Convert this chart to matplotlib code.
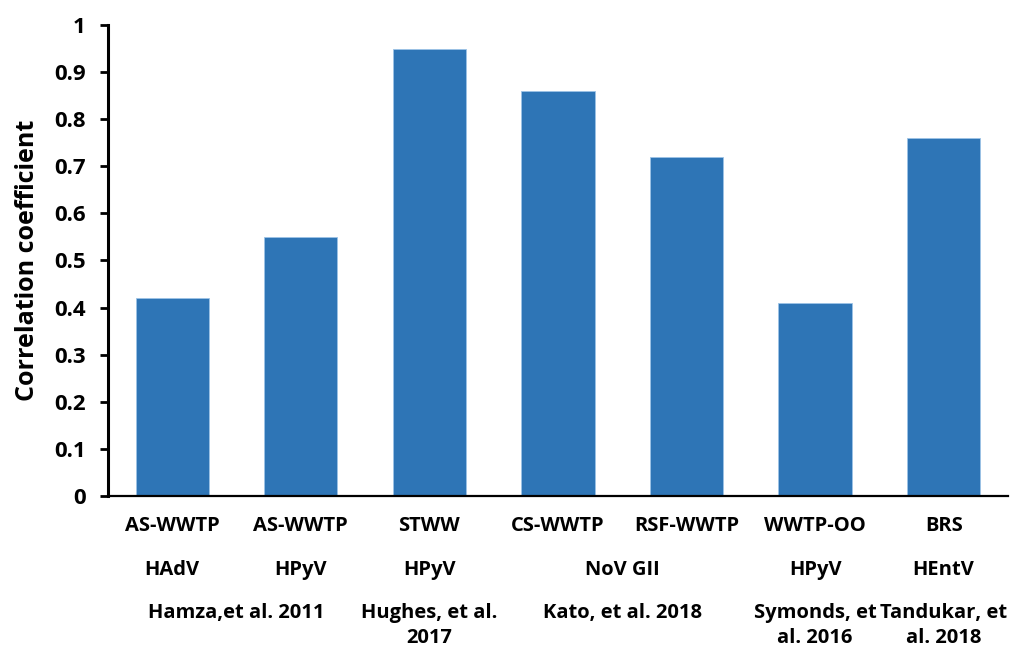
import numpy as np
import matplotlib.pyplot as plt
from matplotlib.transforms import blended_transform_factory

plt.rcParams['font.family'] = ['Open Sans', 'DejaVu Sans']
plt.rcParams['font.weight'] = 'bold'

# correlation coefficient per site / virus / study
sites = ['AS-WWTP', 'AS-WWTP', 'STWW', 'CS-WWTP', 'RSF-WWTP', 'WWTP-OO', 'BRS']
values = [0.42, 0.55, 0.95, 0.86, 0.72, 0.41, 0.76]

# second and third label rows: (label, first bar, last bar)
viruses = [('HAdV', 0, 0), ('HPyV', 1, 1), ('HPyV', 2, 2), ('NoV GII', 3, 4),
           ('HPyV', 5, 5), ('HEntV', 6, 6)]
studies = [('Hamza,et al. 2011', 0, 1), ('Hughes, et al.\n2017', 2, 2),
           ('Kato, et al. 2018', 3, 4), ('Symonds, et\nal. 2016', 5, 5),
           ('Tandukar, et\nal. 2018', 6, 6)]

yticks = np.arange(0, 1.01, 0.1)
ytick_labels = ['0', '0.1', '0.2', '0.3', '0.4', '0.5', '0.6', '0.7', '0.8', '0.9', '1']

fig = plt.figure(figsize=(10.14, 6.47), dpi=100)
ax = fig.add_axes([0.1065, 0.2334, 0.8875, 0.728])

x = np.arange(len(values))
ax.bar(x, values, width=0.57, color='#2E75B6', edgecolor='#9DC3E6', linewidth=0.6)

ax.set_xlim(-0.5, len(values) - 0.5)
ax.set_ylim(0, 1)
ax.set_yticks(yticks)
ax.set_yticklabels(ytick_labels, fontsize=16, fontweight='bold')
ax.set_xticks([])
ax.tick_params(axis='y', direction='out', length=6, width=2, pad=10)
ax.set_ylabel('Correlation coefficient', fontsize=18, fontweight='bold', labelpad=10)

for side in ['top', 'right']:
    ax.spines[side].set_visible(False)
ax.spines['left'].set_linewidth(2.2)
ax.spines['bottom'].set_linewidth(1.6)

fs = 14.5
tr = blended_transform_factory(ax.transData, ax.transAxes)
for i, s in enumerate(sites):
    ax.text(i, -0.064, s, transform=tr, ha='center', va='center', fontsize=fs)
for label, a, b in viruses:
    ax.text((a + b) / 2, -0.157, label, transform=tr, ha='center', va='center', fontsize=fs)
for label, a, b in studies:
    ax.text((a + b) / 2, -0.228, label, transform=tr, ha='center', va='top',
            fontsize=fs, linespacing=1.3)

fig.savefig('out.png', dpi=100)
